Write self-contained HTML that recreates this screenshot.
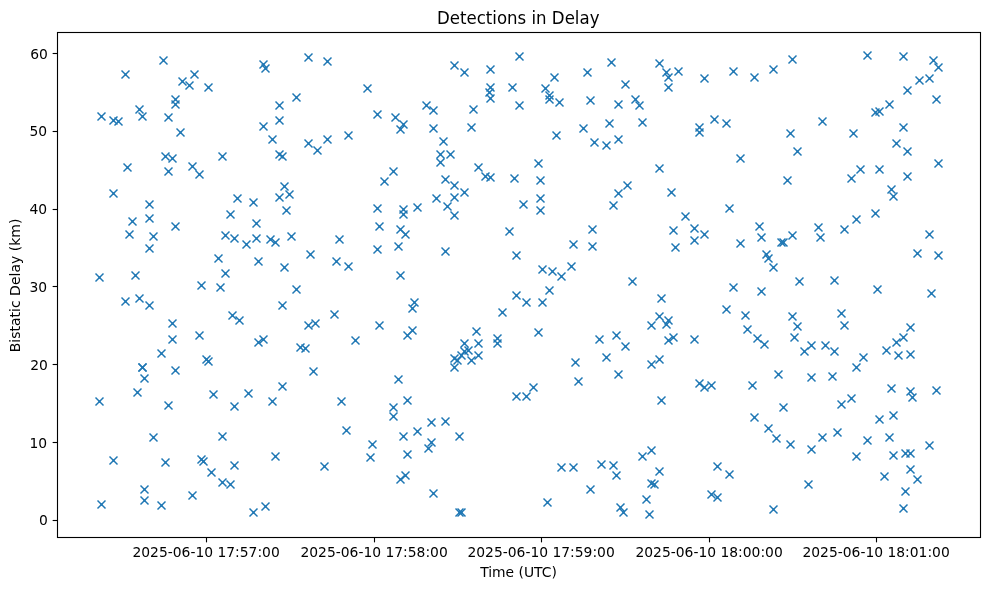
<!DOCTYPE html>
<html><head><meta charset="utf-8"><title>Detections in Delay</title>
<style>
html,body{margin:0;padding:0;background:#fff;}
body{width:989px;height:590px;overflow:hidden;}
svg{display:block;will-change:transform;font-family:"DejaVu Sans","Liberation Sans",sans-serif;}
.tk{font-size:13.89px;fill:#000;}
.m{stroke:#1f77b4;stroke-width:1.45;fill:none;}
</style></head><body>
<svg width="989" height="590" viewBox="0 0 989 590">
<rect width="989" height="590" fill="#fff"/>
<defs><g id="x"><path d="M-4-4L4 4M-4 4L4-4"/><path d="M-1.5 0H1.5M0-1.5V1.5" stroke-width=".6"/></g></defs>
<g class="m">
<use href="#x" x="346.5" y="430.5"/>
<use href="#x" x="512.5" y="87.5"/>
<use href="#x" x="545.5" y="88.5"/>
<use href="#x" x="745.5" y="315.5"/>
<use href="#x" x="367.5" y="88.5"/>
<use href="#x" x="490.5" y="87.5"/>
<use href="#x" x="334.5" y="314.5"/>
<use href="#x" x="189.5" y="85.5"/>
<use href="#x" x="149.5" y="204.5"/>
<use href="#x" x="523.5" y="204.5"/>
<use href="#x" x="907.5" y="90.5"/>
<use href="#x" x="540.5" y="198.5"/>
<use href="#x" x="502.5" y="312.5"/>
<use href="#x" x="489.5" y="92.5"/>
<use href="#x" x="893.5" y="196.5"/>
<use href="#x" x="182.5" y="81.5"/>
<use href="#x" x="377.5" y="208.5"/>
<use href="#x" x="729.5" y="208.5"/>
<use href="#x" x="726.5" y="309.5"/>
<use href="#x" x="549.5" y="95.5"/>
<use href="#x" x="172.5" y="323.5"/>
<use href="#x" x="153.5" y="437.5"/>
<use href="#x" x="315.5" y="323.5"/>
<use href="#x" x="919.5" y="80.5"/>
<use href="#x" x="889.5" y="437.5"/>
<use href="#x" x="841.5" y="313.5"/>
<use href="#x" x="768.5" y="428.5"/>
<use href="#x" x="113.5" y="193.5"/>
<use href="#x" x="540.5" y="210.5"/>
<use href="#x" x="296.5" y="97.5"/>
<use href="#x" x="308.5" y="325.5"/>
<use href="#x" x="379.5" y="325.5"/>
<use href="#x" x="704.5" y="78.5"/>
<use href="#x" x="671.5" y="192.5"/>
<use href="#x" x="929.5" y="78.5"/>
<use href="#x" x="844.5" y="325.5"/>
<use href="#x" x="867.5" y="440.5"/>
<use href="#x" x="149.5" y="305.5"/>
<use href="#x" x="289.5" y="194.5"/>
<use href="#x" x="554.5" y="77.5"/>
<use href="#x" x="490.5" y="98.5"/>
<use href="#x" x="754.5" y="77.5"/>
<use href="#x" x="879.5" y="419.5"/>
<use href="#x" x="549.5" y="99.5"/>
<use href="#x" x="175.5" y="99.5"/>
<use href="#x" x="668.5" y="77.5"/>
<use href="#x" x="668.5" y="87.5"/>
<use href="#x" x="668.5" y="320.5"/>
<use href="#x" x="936.5" y="99.5"/>
<use href="#x" x="875.5" y="213.5"/>
<use href="#x" x="910.5" y="327.5"/>
<use href="#x" x="837.5" y="432.5"/>
<use href="#x" x="754.5" y="417.5"/>
<use href="#x" x="891.5" y="189.5"/>
<use href="#x" x="125.5" y="74.5"/>
<use href="#x" x="194.5" y="74.5"/>
<use href="#x" x="747.5" y="329.5"/>
<use href="#x" x="286.5" y="210.5"/>
<use href="#x" x="393.5" y="416.5"/>
<use href="#x" x="526.5" y="302.5"/>
<use href="#x" x="542.5" y="302.5"/>
<use href="#x" x="666.5" y="324.5"/>
<use href="#x" x="372.5" y="444.5"/>
<use href="#x" x="559.5" y="102.5"/>
<use href="#x" x="685.5" y="216.5"/>
<use href="#x" x="125.5" y="301.5"/>
<use href="#x" x="893.5" y="415.5"/>
<use href="#x" x="476.5" y="331.5"/>
<use href="#x" x="666.5" y="72.5"/>
<use href="#x" x="929.5" y="445.5"/>
<use href="#x" x="284.5" y="186.5"/>
<use href="#x" x="776.5" y="438.5"/>
<use href="#x" x="149.5" y="218.5"/>
<use href="#x" x="538.5" y="332.5"/>
<use href="#x" x="678.5" y="71.5"/>
<use href="#x" x="733.5" y="71.5"/>
<use href="#x" x="175.5" y="104.5"/>
<use href="#x" x="889.5" y="104.5"/>
<use href="#x" x="587.5" y="72.5"/>
<use href="#x" x="139.5" y="298.5"/>
<use href="#x" x="519.5" y="105.5"/>
<use href="#x" x="856.5" y="219.5"/>
<use href="#x" x="282.5" y="305.5"/>
<use href="#x" x="208.5" y="87.5"/>
<use href="#x" x="490.5" y="69.5"/>
<use href="#x" x="773.5" y="69.5"/>
<use href="#x" x="661.5" y="298.5"/>
<use href="#x" x="132.5" y="221.5"/>
<use href="#x" x="199.5" y="335.5"/>
<use href="#x" x="590.5" y="100.5"/>
<use href="#x" x="384.5" y="181.5"/>
<use href="#x" x="516.5" y="295.5"/>
<use href="#x" x="773.5" y="509.5"/>
<use href="#x" x="938.5" y="67.5"/>
<use href="#x" x="279.5" y="105.5"/>
<use href="#x" x="279.5" y="197.5"/>
<use href="#x" x="659.5" y="316.5"/>
<use href="#x" x="139.5" y="109.5"/>
<use href="#x" x="673.5" y="337.5"/>
<use href="#x" x="903.5" y="337.5"/>
<use href="#x" x="473.5" y="109.5"/>
<use href="#x" x="540.5" y="180.5"/>
<use href="#x" x="903.5" y="508.5"/>
<use href="#x" x="497.5" y="338.5"/>
<use href="#x" x="757.5" y="338.5"/>
<use href="#x" x="393.5" y="407.5"/>
<use href="#x" x="931.5" y="293.5"/>
<use href="#x" x="172.5" y="339.5"/>
<use href="#x" x="403.5" y="209.5"/>
<use href="#x" x="403.5" y="214.5"/>
<use href="#x" x="403.5" y="436.5"/>
<use href="#x" x="514.5" y="178.5"/>
<use href="#x" x="694.5" y="339.5"/>
<use href="#x" x="783.5" y="407.5"/>
<use href="#x" x="879.5" y="111.5"/>
<use href="#x" x="851.5" y="178.5"/>
<use href="#x" x="905.5" y="453.5"/>
<use href="#x" x="910.5" y="453.5"/>
<use href="#x" x="175.5" y="226.5"/>
<use href="#x" x="168.5" y="405.5"/>
<use href="#x" x="161.5" y="505.5"/>
<use href="#x" x="379.5" y="226.5"/>
<use href="#x" x="355.5" y="340.5"/>
<use href="#x" x="490.5" y="177.5"/>
<use href="#x" x="659.5" y="63.5"/>
<use href="#x" x="759.5" y="226.5"/>
<use href="#x" x="761.5" y="291.5"/>
<use href="#x" x="668.5" y="340.5"/>
<use href="#x" x="875.5" y="112.5"/>
<use href="#x" x="101.5" y="504.5"/>
<use href="#x" x="485.5" y="176.5"/>
<use href="#x" x="549.5" y="290.5"/>
<use href="#x" x="907.5" y="176.5"/>
<use href="#x" x="841.5" y="404.5"/>
<use href="#x" x="893.5" y="455.5"/>
<use href="#x" x="464.5" y="72.5"/>
<use href="#x" x="464.5" y="192.5"/>
<use href="#x" x="327.5" y="61.5"/>
<use href="#x" x="296.5" y="289.5"/>
<use href="#x" x="275.5" y="456.5"/>
<use href="#x" x="694.5" y="228.5"/>
<use href="#x" x="877.5" y="289.5"/>
<use href="#x" x="896.5" y="342.5"/>
<use href="#x" x="856.5" y="456.5"/>
<use href="#x" x="377.5" y="114.5"/>
<use href="#x" x="822.5" y="437.5"/>
<use href="#x" x="407.5" y="335.5"/>
<use href="#x" x="407.5" y="454.5"/>
<use href="#x" x="787.5" y="180.5"/>
<use href="#x" x="163.5" y="60.5"/>
<use href="#x" x="199.5" y="174.5"/>
<use href="#x" x="400.5" y="229.5"/>
<use href="#x" x="370.5" y="457.5"/>
<use href="#x" x="592.5" y="229.5"/>
<use href="#x" x="497.5" y="343.5"/>
<use href="#x" x="478.5" y="343.5"/>
<use href="#x" x="547.5" y="502.5"/>
<use href="#x" x="933.5" y="60.5"/>
<use href="#x" x="844.5" y="229.5"/>
<use href="#x" x="461.5" y="512.5"/>
<use href="#x" x="142.5" y="116.5"/>
<use href="#x" x="101.5" y="116.5"/>
<use href="#x" x="99.5" y="401.5"/>
<use href="#x" x="272.5" y="401.5"/>
<use href="#x" x="341.5" y="401.5"/>
<use href="#x" x="673.5" y="230.5"/>
<use href="#x" x="733.5" y="287.5"/>
<use href="#x" x="764.5" y="344.5"/>
<use href="#x" x="651.5" y="325.5"/>
<use href="#x" x="651.5" y="450.5"/>
<use href="#x" x="395.5" y="117.5"/>
<use href="#x" x="599.5" y="339.5"/>
<use href="#x" x="168.5" y="117.5"/>
<use href="#x" x="144.5" y="500.5"/>
<use href="#x" x="407.5" y="400.5"/>
<use href="#x" x="509.5" y="231.5"/>
<use href="#x" x="661.5" y="400.5"/>
<use href="#x" x="825.5" y="345.5"/>
<use href="#x" x="201.5" y="459.5"/>
<use href="#x" x="220.5" y="287.5"/>
<use href="#x" x="790.5" y="444.5"/>
<use href="#x" x="459.5" y="512.5"/>
<use href="#x" x="168.5" y="171.5"/>
<use href="#x" x="201.5" y="285.5"/>
<use href="#x" x="113.5" y="460.5"/>
<use href="#x" x="308.5" y="57.5"/>
<use href="#x" x="393.5" y="171.5"/>
<use href="#x" x="459.5" y="436.5"/>
<use href="#x" x="649.5" y="514.5"/>
<use href="#x" x="818.5" y="227.5"/>
<use href="#x" x="203.5" y="461.5"/>
<use href="#x" x="300.5" y="347.5"/>
<use href="#x" x="519.5" y="56.5"/>
<use href="#x" x="714.5" y="119.5"/>
<use href="#x" x="903.5" y="56.5"/>
<use href="#x" x="851.5" y="398.5"/>
<use href="#x" x="222.5" y="436.5"/>
<use href="#x" x="412.5" y="308.5"/>
<use href="#x" x="412.5" y="330.5"/>
<use href="#x" x="792.5" y="59.5"/>
<use href="#x" x="792.5" y="316.5"/>
<use href="#x" x="113.5" y="120.5"/>
<use href="#x" x="129.5" y="234.5"/>
<use href="#x" x="165.5" y="462.5"/>
<use href="#x" x="279.5" y="120.5"/>
<use href="#x" x="405.5" y="234.5"/>
<use href="#x" x="305.5" y="348.5"/>
<use href="#x" x="704.5" y="234.5"/>
<use href="#x" x="717.5" y="497.5"/>
<use href="#x" x="867.5" y="55.5"/>
<use href="#x" x="860.5" y="169.5"/>
<use href="#x" x="879.5" y="169.5"/>
<use href="#x" x="929.5" y="234.5"/>
<use href="#x" x="912.5" y="397.5"/>
<use href="#x" x="118.5" y="121.5"/>
<use href="#x" x="516.5" y="396.5"/>
<use href="#x" x="526.5" y="396.5"/>
<use href="#x" x="659.5" y="168.5"/>
<use href="#x" x="792.5" y="235.5"/>
<use href="#x" x="646.5" y="499.5"/>
<use href="#x" x="822.5" y="121.5"/>
<use href="#x" x="265.5" y="68.5"/>
<use href="#x" x="153.5" y="236.5"/>
<use href="#x" x="291.5" y="236.5"/>
<use href="#x" x="414.5" y="302.5"/>
<use href="#x" x="601.5" y="464.5"/>
<use href="#x" x="794.5" y="337.5"/>
<use href="#x" x="886.5" y="350.5"/>
<use href="#x" x="127.5" y="167.5"/>
<use href="#x" x="192.5" y="495.5"/>
<use href="#x" x="265.5" y="506.5"/>
<use href="#x" x="478.5" y="167.5"/>
<use href="#x" x="471.5" y="360.5"/>
<use href="#x" x="464.5" y="351.5"/>
<use href="#x" x="225.5" y="235.5"/>
<use href="#x" x="726.5" y="123.5"/>
<use href="#x" x="761.5" y="237.5"/>
<use href="#x" x="820.5" y="237.5"/>
<use href="#x" x="834.5" y="351.5"/>
<use href="#x" x="192.5" y="166.5"/>
<use href="#x" x="213.5" y="394.5"/>
<use href="#x" x="454.5" y="65.5"/>
<use href="#x" x="454.5" y="185.5"/>
<use href="#x" x="454.5" y="197.5"/>
<use href="#x" x="454.5" y="215.5"/>
<use href="#x" x="711.5" y="494.5"/>
<use href="#x" x="834.5" y="280.5"/>
<use href="#x" x="468.5" y="350.5"/>
<use href="#x" x="403.5" y="124.5"/>
<use href="#x" x="324.5" y="466.5"/>
<use href="#x" x="717.5" y="466.5"/>
<use href="#x" x="263.5" y="64.5"/>
<use href="#x" x="263.5" y="339.5"/>
<use href="#x" x="161.5" y="353.5"/>
<use href="#x" x="417.5" y="207.5"/>
<use href="#x" x="270.5" y="239.5"/>
<use href="#x" x="339.5" y="239.5"/>
<use href="#x" x="417.5" y="431.5"/>
<use href="#x" x="561.5" y="467.5"/>
<use href="#x" x="573.5" y="467.5"/>
<use href="#x" x="797.5" y="326.5"/>
<use href="#x" x="137.5" y="392.5"/>
<use href="#x" x="642.5" y="122.5"/>
<use href="#x" x="642.5" y="456.5"/>
<use href="#x" x="811.5" y="345.5"/>
<use href="#x" x="811.5" y="449.5"/>
<use href="#x" x="263.5" y="126.5"/>
<use href="#x" x="694.5" y="240.5"/>
<use href="#x" x="910.5" y="354.5"/>
<use href="#x" x="99.5" y="277.5"/>
<use href="#x" x="538.5" y="163.5"/>
<use href="#x" x="938.5" y="163.5"/>
<use href="#x" x="910.5" y="391.5"/>
<use href="#x" x="905.5" y="491.5"/>
<use href="#x" x="461.5" y="355.5"/>
<use href="#x" x="609.5" y="123.5"/>
<use href="#x" x="799.5" y="281.5"/>
<use href="#x" x="471.5" y="127.5"/>
<use href="#x" x="478.5" y="355.5"/>
<use href="#x" x="699.5" y="127.5"/>
<use href="#x" x="903.5" y="127.5"/>
<use href="#x" x="898.5" y="355.5"/>
<use href="#x" x="910.5" y="469.5"/>
<use href="#x" x="561.5" y="276.5"/>
<use href="#x" x="936.5" y="390.5"/>
<use href="#x" x="230.5" y="214.5"/>
<use href="#x" x="144.5" y="489.5"/>
<use href="#x" x="275.5" y="242.5"/>
<use href="#x" x="400.5" y="275.5"/>
<use href="#x" x="583.5" y="128.5"/>
<use href="#x" x="590.5" y="489.5"/>
<use href="#x" x="639.5" y="105.5"/>
<use href="#x" x="781.5" y="242.5"/>
<use href="#x" x="783.5" y="242.5"/>
<use href="#x" x="135.5" y="275.5"/>
<use href="#x" x="400.5" y="129.5"/>
<use href="#x" x="611.5" y="62.5"/>
<use href="#x" x="606.5" y="357.5"/>
<use href="#x" x="740.5" y="243.5"/>
<use href="#x" x="659.5" y="471.5"/>
<use href="#x" x="863.5" y="357.5"/>
<use href="#x" x="891.5" y="388.5"/>
<use href="#x" x="258.5" y="342.5"/>
<use href="#x" x="232.5" y="315.5"/>
<use href="#x" x="225.5" y="273.5"/>
<use href="#x" x="211.5" y="472.5"/>
<use href="#x" x="573.5" y="244.5"/>
<use href="#x" x="533.5" y="387.5"/>
<use href="#x" x="704.5" y="387.5"/>
<use href="#x" x="447.5" y="206.5"/>
<use href="#x" x="464.5" y="343.5"/>
<use href="#x" x="457.5" y="360.5"/>
<use href="#x" x="613.5" y="205.5"/>
<use href="#x" x="613.5" y="465.5"/>
<use href="#x" x="172.5" y="158.5"/>
<use href="#x" x="206.5" y="359.5"/>
<use href="#x" x="282.5" y="386.5"/>
<use href="#x" x="740.5" y="158.5"/>
<use href="#x" x="659.5" y="359.5"/>
<use href="#x" x="256.5" y="223.5"/>
<use href="#x" x="256.5" y="238.5"/>
<use href="#x" x="234.5" y="238.5"/>
<use href="#x" x="234.5" y="406.5"/>
<use href="#x" x="234.5" y="465.5"/>
<use href="#x" x="804.5" y="351.5"/>
<use href="#x" x="180.5" y="132.5"/>
<use href="#x" x="398.5" y="246.5"/>
<use href="#x" x="445.5" y="179.5"/>
<use href="#x" x="592.5" y="246.5"/>
<use href="#x" x="552.5" y="271.5"/>
<use href="#x" x="445.5" y="421.5"/>
<use href="#x" x="635.5" y="99.5"/>
<use href="#x" x="699.5" y="132.5"/>
<use href="#x" x="711.5" y="385.5"/>
<use href="#x" x="752.5" y="385.5"/>
<use href="#x" x="729.5" y="474.5"/>
<use href="#x" x="454.5" y="358.5"/>
<use href="#x" x="454.5" y="367.5"/>
<use href="#x" x="405.5" y="475.5"/>
<use href="#x" x="790.5" y="133.5"/>
<use href="#x" x="675.5" y="247.5"/>
<use href="#x" x="165.5" y="156.5"/>
<use href="#x" x="222.5" y="156.5"/>
<use href="#x" x="208.5" y="361.5"/>
<use href="#x" x="230.5" y="484.5"/>
<use href="#x" x="282.5" y="156.5"/>
<use href="#x" x="654.5" y="484.5"/>
<use href="#x" x="853.5" y="133.5"/>
<use href="#x" x="808.5" y="484.5"/>
<use href="#x" x="426.5" y="105.5"/>
<use href="#x" x="149.5" y="248.5"/>
<use href="#x" x="616.5" y="335.5"/>
<use href="#x" x="575.5" y="362.5"/>
<use href="#x" x="616.5" y="475.5"/>
<use href="#x" x="884.5" y="476.5"/>
<use href="#x" x="253.5" y="202.5"/>
<use href="#x" x="253.5" y="512.5"/>
<use href="#x" x="542.5" y="269.5"/>
<use href="#x" x="699.5" y="383.5"/>
<use href="#x" x="651.5" y="483.5"/>
<use href="#x" x="556.5" y="135.5"/>
<use href="#x" x="237.5" y="198.5"/>
<use href="#x" x="348.5" y="135.5"/>
<use href="#x" x="377.5" y="249.5"/>
<use href="#x" x="222.5" y="482.5"/>
<use href="#x" x="279.5" y="154.5"/>
<use href="#x" x="450.5" y="154.5"/>
<use href="#x" x="632.5" y="281.5"/>
<use href="#x" x="428.5" y="448.5"/>
<use href="#x" x="618.5" y="104.5"/>
<use href="#x" x="618.5" y="193.5"/>
<use href="#x" x="651.5" y="364.5"/>
<use href="#x" x="284.5" y="267.5"/>
<use href="#x" x="578.5" y="381.5"/>
<use href="#x" x="773.5" y="267.5"/>
<use href="#x" x="239.5" y="320.5"/>
<use href="#x" x="445.5" y="251.5"/>
<use href="#x" x="917.5" y="479.5"/>
<use href="#x" x="348.5" y="266.5"/>
<use href="#x" x="440.5" y="154.5"/>
<use href="#x" x="440.5" y="162.5"/>
<use href="#x" x="571.5" y="266.5"/>
<use href="#x" x="400.5" y="479.5"/>
<use href="#x" x="620.5" y="507.5"/>
<use href="#x" x="398.5" y="379.5"/>
<use href="#x" x="797.5" y="151.5"/>
<use href="#x" x="907.5" y="151.5"/>
<use href="#x" x="317.5" y="150.5"/>
<use href="#x" x="327.5" y="139.5"/>
<use href="#x" x="618.5" y="139.5"/>
<use href="#x" x="272.5" y="139.5"/>
<use href="#x" x="431.5" y="422.5"/>
<use href="#x" x="431.5" y="442.5"/>
<use href="#x" x="917.5" y="253.5"/>
<use href="#x" x="856.5" y="367.5"/>
<use href="#x" x="142.5" y="367.5"/>
<use href="#x" x="144.5" y="378.5"/>
<use href="#x" x="248.5" y="393.5"/>
<use href="#x" x="142.5" y="367.5"/>
<use href="#x" x="310.5" y="254.5"/>
<use href="#x" x="627.5" y="185.5"/>
<use href="#x" x="766.5" y="254.5"/>
<use href="#x" x="811.5" y="377.5"/>
<use href="#x" x="433.5" y="110.5"/>
<use href="#x" x="433.5" y="128.5"/>
<use href="#x" x="433.5" y="493.5"/>
<use href="#x" x="516.5" y="255.5"/>
<use href="#x" x="623.5" y="512.5"/>
<use href="#x" x="938.5" y="255.5"/>
<use href="#x" x="443.5" y="141.5"/>
<use href="#x" x="832.5" y="376.5"/>
<use href="#x" x="246.5" y="244.5"/>
<use href="#x" x="436.5" y="198.5"/>
<use href="#x" x="175.5" y="370.5"/>
<use href="#x" x="594.5" y="142.5"/>
<use href="#x" x="258.5" y="261.5"/>
<use href="#x" x="336.5" y="261.5"/>
<use href="#x" x="625.5" y="84.5"/>
<use href="#x" x="625.5" y="346.5"/>
<use href="#x" x="308.5" y="143.5"/>
<use href="#x" x="313.5" y="371.5"/>
<use href="#x" x="896.5" y="143.5"/>
<use href="#x" x="618.5" y="374.5"/>
<use href="#x" x="778.5" y="374.5"/>
<use href="#x" x="768.5" y="258.5"/>
<use href="#x" x="606.5" y="145.5"/>
<use href="#x" x="218.5" y="258.5"/>
</g>
<rect x="57.5" y="32.5" width="923.0" height="505.0" fill="none" stroke="#000" stroke-width="1.11"/>
<g stroke="#000" stroke-width="1.11">
<line x1="206.5" y1="537.5" x2="206.5" y2="542.36"/>
<line x1="374.5" y1="537.5" x2="374.5" y2="542.36"/>
<line x1="541.5" y1="537.5" x2="541.5" y2="542.36"/>
<line x1="709.5" y1="537.5" x2="709.5" y2="542.36"/>
<line x1="876.5" y1="537.5" x2="876.5" y2="542.36"/>
<line x1="57.5" y1="520.50" x2="52.64" y2="520.50"/>
<line x1="57.5" y1="442.50" x2="52.64" y2="442.50"/>
<line x1="57.5" y1="364.50" x2="52.64" y2="364.50"/>
<line x1="57.5" y1="286.50" x2="52.64" y2="286.50"/>
<line x1="57.5" y1="209.50" x2="52.64" y2="209.50"/>
<line x1="57.5" y1="131.50" x2="52.64" y2="131.50"/>
<line x1="57.5" y1="53.50" x2="52.64" y2="53.50"/>
</g>
<g class="tk" text-anchor="middle">
<text x="206.1" y="556.8">2025-06-10 17:57:00</text>
<text x="374.1" y="556.8">2025-06-10 17:58:00</text>
<text x="541.1" y="556.8">2025-06-10 17:59:00</text>
<text x="709.1" y="556.8">2025-06-10 18:00:00</text>
<text x="876.1" y="556.8">2025-06-10 18:01:00</text>
</g><g class="tk" text-anchor="end">
<text x="47.8" y="525.0">0</text>
<text x="47.1" y="448.0">10</text>
<text x="47.8" y="370.0">20</text>
<text x="47.1" y="292.0">30</text>
<text x="47.1" y="214.0">40</text>
<text x="47.1" y="136.0">50</text>
<text x="47.8" y="59.0">60</text>
</g>
<text class="tk" text-anchor="middle" x="518.5" y="577.3">Time (UTC)</text>
<text class="tk" style="font-size:14px" text-anchor="middle" transform="translate(20.0,285.45) rotate(-90)">Bistatic Delay (km)</text>
<text text-anchor="middle" transform="translate(518.2,23.8) scale(1,1.05)" style="font-size:16.6px" fill="#000">Detections in Delay</text>
</svg></body></html>
